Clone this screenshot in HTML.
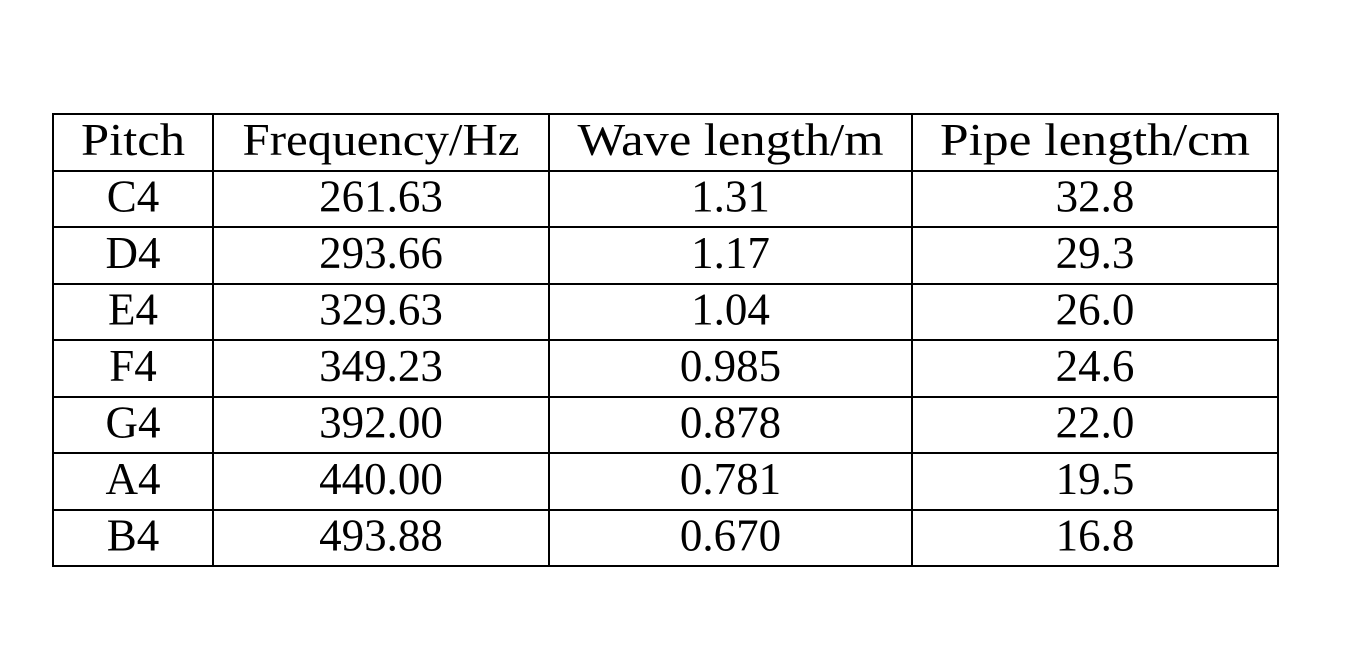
<!DOCTYPE html>
<html><head><meta charset="utf-8"><style>
html,body{margin:0;padding:0;background:#fff;}
svg{display:block;}
text{font-family:"Liberation Serif",serif;font-size:45px;fill:#000;text-anchor:middle;}
</style></head><body>
<svg width="1367" height="648">
<g id="grid" stroke="#000" stroke-width="2" fill="none"></g>
<g id="cells"></g>
</svg>
<script>
const headers = ["Pitch","Frequency/Hz","Wave length/m","Pipe length/cm"];
const pitches = ["C4","D4","E4","F4","G4","A4","B4"];
const freqs = ["261.63","293.66","329.63","349.23","392.00","440.00","493.88"];
const waves = ["1.31","1.17","1.04","0.985","0.878","0.781","0.670"];
const pipes = ["32.8","29.3","26.0","24.6","22.0","19.5","16.8"];
const colX = [53,213,549,912,1278];
const headerW = [104,277,306,310];
const tableTop = 114, rowH = 56.5;
const ns = "http://www.w3.org/2000/svg";
const grid = document.getElementById('grid');
const cells = document.getElementById('cells');
const nRows = pitches.length + 1;
const tableBottom = tableTop + rowH * nRows;
for (let i = 0; i <= nRows; i++) {
  const l = document.createElementNS(ns,'line');
  const y = Math.round(tableTop + rowH * i);
  l.setAttribute('x1', colX[0]); l.setAttribute('x2', colX[4]);
  l.setAttribute('y1', y); l.setAttribute('y2', y);
  
  
  grid.appendChild(l);
}
colX.forEach(x => {
  const l = document.createElementNS(ns,'line');
  l.setAttribute('x1', x); l.setAttribute('x2', x);
  l.setAttribute('y1', tableTop - 1); l.setAttribute('y2', Math.round(tableBottom) + 1);
  
  
  grid.appendChild(l);
});
const rows = [headers].concat(pitches.map((p,i)=>[p,freqs[i],waves[i],pipes[i]]));
rows.forEach((r, ri) => {
  r.forEach((v, ci) => {
    const t = document.createElementNS(ns,'text');
    t.setAttribute('x', (colX[ci] + colX[ci+1]) / 2);
    t.setAttribute('y', tableTop + rowH * ri + 41);
    if (ri === 0) { t.setAttribute('textLength', headerW[ci]); t.setAttribute('lengthAdjust', 'spacingAndGlyphs'); }
    t.textContent = v;
    
    
    cells.appendChild(t);
  });
});
</script>
</body></html>
